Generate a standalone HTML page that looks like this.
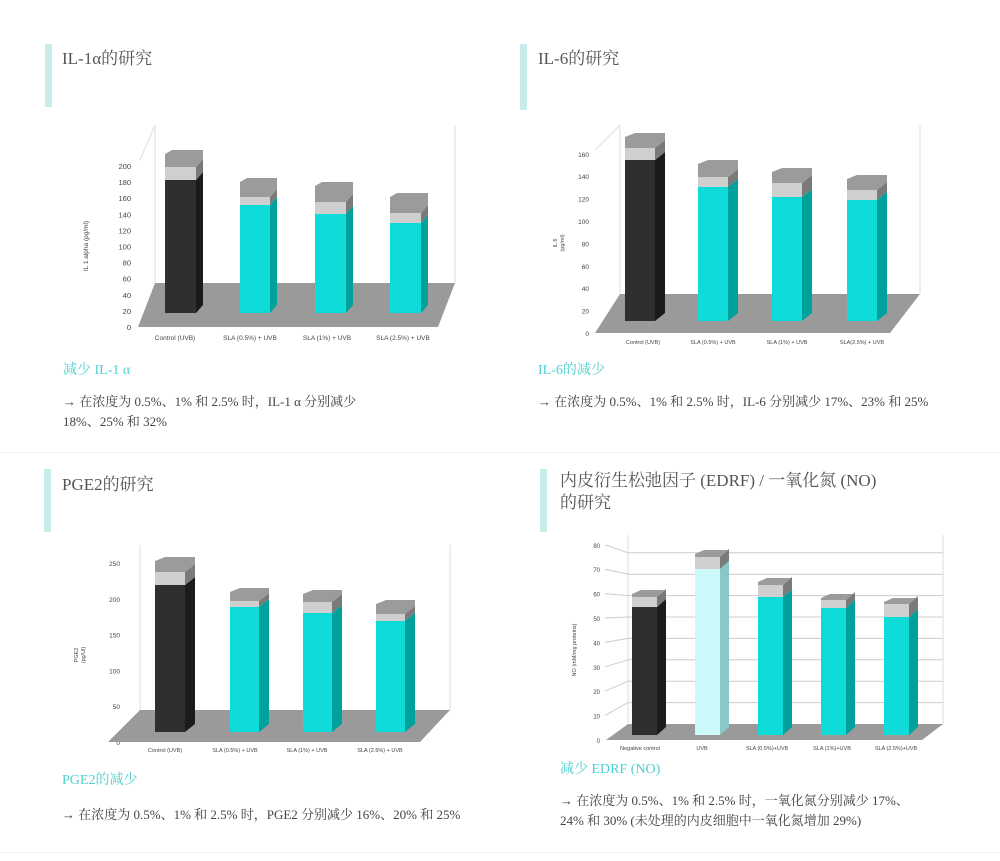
<!DOCTYPE html>
<html><head><meta charset="utf-8"><style>
body{margin:0;background:#fff;width:1000px;height:861px;overflow:hidden;font-family:"Liberation Serif","Noto Serif CJK SC","Noto Sans CJK SC",serif;}
.bar{position:absolute;width:7px;background:#c8ecec;}
.t{position:absolute;color:#555;font-size:17px;white-space:nowrap;}
.s{position:absolute;color:#4fd0d0;font-size:14px;}
.b{position:absolute;color:#444;font-size:13px;line-height:20px;}
svg{position:absolute;left:0;top:0}
</style></head><body>
<div class="bar" style="left:45px;top:44px;height:63px"></div>
<div class="bar" style="left:520px;top:44px;height:66px"></div>
<div class="bar" style="left:44px;top:469px;height:63px"></div>
<div class="bar" style="left:540px;top:469px;height:63px"></div>
<div class="t" style="left:62px;top:44px">IL-1α的研究</div>
<div class="t" style="left:538px;top:44px">IL-6的研究</div>
<div class="t" style="left:62px;top:470px">PGE2的研究</div>
<div class="t" style="left:560px;top:470px;line-height:22px">内皮衍生松弛因子 (EDRF) / 一氧化氮 (NO)<br>的研究</div>
<div class="s" style="left:63px;top:359px">减少 IL-1 α</div>
<div class="s" style="left:538px;top:359px">IL-6的减少</div>
<div class="s" style="left:62px;top:769px">PGE2的减少</div>
<div class="s" style="left:560px;top:758px">减少 EDRF (NO)</div>
<div class="b" style="left:63px;top:392px">→ 在浓度为 0.5%、1% 和 2.5% 时，IL-1 α 分别减少<br>18%、25% 和 32%</div>
<div class="b" style="left:538px;top:392px">→ 在浓度为 0.5%、1% 和 2.5% 时，IL-6 分别减少 17%、23% 和 25%</div>
<div class="b" style="left:62px;top:805px">→ 在浓度为 0.5%、1% 和 2.5% 时，PGE2 分别减少 16%、20% 和 25%</div>
<div class="b" style="left:560px;top:791px">→ 在浓度为 0.5%、1% 和 2.5% 时，一氧化氮分别减少 17%、<br>24% 和 30% (未处理的内皮细胞中一氧化氮增加 29%)</div>
<div style="position:absolute;left:0;top:452px;width:1000px;height:1px;background:#f0f0f0"></div>
<div style="position:absolute;left:0;top:852px;width:1000px;height:1px;background:#f0f0f0"></div>
<svg id="g" width="1000" height="861" font-family="Liberation Sans, sans-serif"></svg>
<script>
var s='';
function P(pts,f){s+='<polygon points="'+pts.map(p=>p.join(',')).join(' ')+'" fill="'+f+'"/>';}
function L(x1,y1,x2,y2,c){s+='<line x1="'+x1+'" y1="'+y1+'" x2="'+x2+'" y2="'+y2+'" stroke="'+(c||'#ddd')+'" stroke-width="1"/>';}
function T(x,y,t,fs,a,rot){s+='<text x="'+x+'" y="'+y+'" font-size="'+fs+'" fill="#444" text-anchor="'+(a||'middle')+'"'+(rot?' transform="rotate(-90 '+x+' '+y+')"':'')+'>'+t+'</text>';}
function bar(x,w,bot,top,cap,lid,d,col,side){
 P([[x+w,top],[x+w+d,top-8],[x+w+d,bot-8],[x+w,bot]],side);
 P([[x,bot],[x+w,bot],[x+w,top],[x,top]],col);
 P([[x,top],[x+w,top],[x+w,cap],[x,cap]],'#cfcfcf');
 P([[x+w,cap],[x+w+d,cap-8],[x+w+d,top-8],[x+w,top]],'#7a7a7a');
 P([[x,cap],[x,lid+4],[x+d,lid],[x+w+d,lid],[x+w+d,cap-8],[x+w,cap]],'#9b9b9b');
}
var K='#2f2f2f',KS='#1b1b1b',C='#0fdcd8',CS='#00a09d';
// chart1
L(155,125,155,283);L(455,125,455,283);L(140,160,155,125);
for(var i=0;i<=10;i++){var y=327-i*16.1;T(131,y+3,i*20,7.5,'end');}
P([[138,327],[438,327],[455,283],[155,283]],'#9a9a9a');
bar(165,31,313,180,167,150,7,K,KS);bar(240,30,313,205,197,178,7,C,CS);bar(315,31,313,214,202,182,7,C,CS);bar(390,31,313,223,213,193,7,C,CS);
[['Control (UVB)',175],['SLA (0.5%) + UVB',250],['SLA (1%) + UVB',327],['SLA (2.5%) + UVB',403]].forEach(a=>T(a[1],340,a[0],6.5));
T(88,246,'IL 1 alpha (pg/ml)',6.5,'middle',1);
// chart2
L(620,125,620,294);L(920,125,920,294);L(595,150,620,125);
for(var i=0;i<=8;i++){var y=333-i*22.4;T(589,y+3,i*20,6.5,'end');}
P([[595,333],[890,333],[920,294],[620,294]],'#9a9a9a');
bar(625,30,321,160,148,133,10,K,KS);bar(698,30,321,187,177,160,10,C,CS);bar(772,30,321,197,183,168,10,C,CS);bar(847,30,321,200,190,175,10,C,CS);
[['Control (UVB)',643],['SLA (0.5%) + UVB',713],['SLA (1%) + UVB',787],['SLA(2.5%) + UVB',862]].forEach(a=>T(a[1],344,a[0],5.5));
T(557,243,'IL 6',5.5,'middle',1);T(564,243,'(pg/ml)',5.5,'middle',1);
// chart3
L(140,545,140,710);L(450,545,450,710);
for(var i=0;i<=5;i++){var y=742-i*35.8;T(120,y+3,i*50,6.5,'end');}
P([[108,742],[420,742],[450,710],[140,710]],'#9a9a9a');
bar(155,30,732,585,572,557,10,K,KS);bar(230,29,732,607,601,588,10,C,CS);bar(303,29,732,613,602,590,10,C,CS);bar(376,29,732,621,614,600,10,C,CS);
[['Control (UVB)',165],['SLA (0.5%) + UVB',235],['SLA (1%) + UVB',307],['SLA (2.5%) + UVB',380]].forEach(a=>T(a[1],752,a[0],5.5));
T(78,655,'PGE2',5.5,'middle',1);T(85,655,'(pg/Ul)',5.5,'middle',1);
// chart4
L(628,535,628,725);L(943,535,943,725);
for(var i=0;i<=8;i++){var y=740-i*24.4;var gy=724-i*21.4;T(600,y+3,i*10,6,'end');if(i>0){L(628,gy,943,gy,'#ccc');L(605,y,628,gy,'#ccc');}}
P([[606,740],[922,740],[943,724],[628,724]],'#9a9a9a');
bar(632,25,735,607,597,590,9,K,KS);bar(695,25,735,569,557,550,9,'#ccfafa','#88c8c8');bar(758,25,735,597,585,578,9,C,CS);bar(821,25,735,608,600,594,9,C,CS);bar(884,25,735,617,604,598,9,C,CS);
[['Negative control',640],['UVB',702],['SLA (0.5%)+UVB',767],['SLA (1%)+UVB',832],['SLA (2.5%)+UVB',896]].forEach(a=>T(a[1],750,a[0],5.5));
T(576,650,'NO (mM/mg proteins)',5.5,'middle',1);
document.getElementById('g').innerHTML=s;
</script>
</body></html>
